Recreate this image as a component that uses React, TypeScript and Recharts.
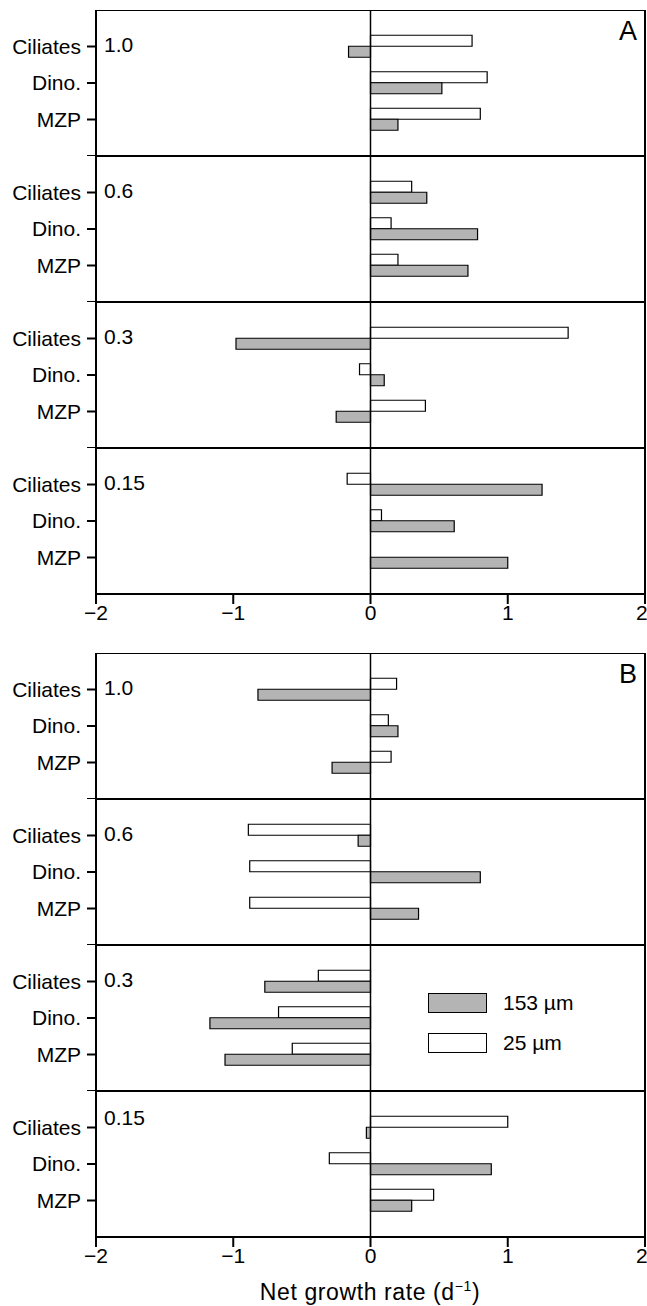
import React from 'react'
import { BarChart, Bar, XAxis, YAxis, ReferenceLine, Legend } from 'recharts'

// categories, sub-panel labels and axis ticks
const categories = ['Ciliates', 'Dino.', 'MZP']
const levels = ['1.0', '0.6', '0.3', '0.15']
const xTicks = [-2, -1, 0, 1, 2]
const panelLetters = ['A', 'B']

// Panel A: net growth rate (d-1), order Ciliates, Dino., MZP
const a153_10 = [-0.16, 0.52, 0.2]
const a25_10 = [0.74, 0.85, 0.8]
const a153_06 = [0.41, 0.78, 0.71]
const a25_06 = [0.3, 0.15, 0.2]
const a153_03 = [-0.98, 0.1, -0.25]
const a25_03 = [1.44, -0.08, 0.4]
const a153_015 = [1.25, 0.61, 1.0]
const a25_015 = [-0.17, 0.08, 0]

// Panel B
const b153_10 = [-0.82, 0.2, -0.28]
const b25_10 = [0.19, 0.13, 0.15]
const b153_06 = [-0.09, 0.8, 0.35]
const b25_06 = [-0.89, -0.88, -0.88]
const b153_03 = [-0.77, -1.17, -1.06]
const b25_03 = [-0.38, -0.67, -0.57]
const b153_015 = [-0.03, 0.88, 0.3]
const b25_015 = [1.0, -0.3, 0.46]

const panelA153 = [a153_10, a153_06, a153_03, a153_015]
const panelA25 = [a25_10, a25_06, a25_03, a25_015]
const panelB153 = [b153_10, b153_06, b153_03, b153_015]
const panelB25 = [b25_10, b25_06, b25_03, b25_015]

const FONT = '"Liberation Sans", Arial, Helvetica, sans-serif'
const W = 647
const SUB_H = 146
const PANEL_TOPS = [10, 653]
const GRAY = '#b4b4b4'

const fmtX = (v: number) => (v < 0 ? '\u2212' + Math.abs(v) : String(v))

function LegendBox({ payload }: any) {
  const order = ['153 µm', '25 µm']
  const items = [...(payload || [])].sort((a: any, b: any) => order.indexOf(a.value) - order.indexOf(b.value))
  return (
    <div style={{ fontFamily: FONT, fontSize: 21 }}>
      {items.map((p: any) => (
        <div key={p.value} style={{ display: 'flex', alignItems: 'center', height: 20, marginBottom: 20 }}>
          <div
            style={{
              width: 57,
              height: 18,
              background: p.value === '153 µm' ? GRAY : '#fff',
              border: '1.5px solid #000',
              marginRight: 16,
            }}
          />
          <span>{p.value}</span>
        </div>
      ))}
    </div>
  )
}

function SubPanel({
  v153,
  v25,
  last,
  legend,
}: {
  v153: number[]
  v25: number[]
  last: boolean
  legend: boolean
}) {
  const data = categories.map((name, i) => ({ name, pos: i + 1, s25: v25[i], s153: v153[i] }))
  return (
    <BarChart
      width={W}
      height={SUB_H + (last ? 40 : 0)}
      data={data}
      layout="vertical"
      margin={{ top: 0, right: 2, bottom: 0, left: 0 }}
      barSize={11}
      barGap={0}
    >
      <XAxis
        type="number"
        domain={[-2, 2]}
        ticks={xTicks}
        hide={!last}
        height={last ? 40 : 0}
        tickFormatter={fmtX}
        tickSize={10}
        tickMargin={1}
        axisLine={{ stroke: '#000', strokeWidth: 2 }}
        tickLine={{ stroke: '#000', strokeWidth: 2 }}
        tick={{ fill: '#000', fontSize: 21, fontFamily: FONT }}
      />
      <YAxis
        type="number"
        dataKey="pos"
        domain={[0, 4]}
        ticks={last ? [1, 2, 3] : [1, 2, 3, 4]}
        interval={0}
        width={96}
        tickSize={9}
        tickMargin={6}
        tickFormatter={(v: number) => categories[v - 1] ?? ''}
        axisLine={{ stroke: '#000', strokeWidth: 2 }}
        tickLine={{ stroke: '#000', strokeWidth: 2 }}
        tick={{ fill: '#000', fontSize: 21, fontFamily: FONT }}
      />
      <ReferenceLine y={0} stroke="#000" strokeWidth={2} />
      <ReferenceLine y={4} stroke="#000" strokeWidth={2} />
      <ReferenceLine x={2} stroke="#000" strokeWidth={2} />
      <ReferenceLine x={0} stroke="#000" strokeWidth={1.5} />
      <Bar dataKey="s25" name="25 µm" fill="#ffffff" stroke="#000" strokeWidth={1.2} isAnimationActive={false} />
      <Bar dataKey="s153" name="153 µm" fill={GRAY} stroke="#000" strokeWidth={1.2} isAnimationActive={false} />
      {legend && (
        <Legend
          layout="vertical"
          align="center"
          verticalAlign="middle"
          content={<LegendBox />}
          wrapperStyle={{ position: 'absolute', left: 428, top: 48, width: 180 }}
        />
      )}
    </BarChart>
  )
}

export default function App() {
  const panels = [
    { v153: panelA153, v25: panelA25 },
    { v153: panelB153, v25: panelB25 },
  ]
  return (
    <div
      style={{
        position: 'absolute',
        left: 0,
        top: 0,
        width: W,
        height: 1306,
        background: '#fff',
        fontFamily: FONT,
      }}
    >
      {panels.map((p, pi) =>
        levels.map((lvl, li) => {
          const top = PANEL_TOPS[pi] + li * SUB_H
          const last = li === levels.length - 1
          return (
            <div key={`${pi}-${li}`} style={{ position: 'absolute', left: 0, top }}>
              <SubPanel v153={p.v153[li]} v25={p.v25[li]} last={last} legend={pi === 1 && li === 2} />
              <div
                style={{
                  position: 'absolute',
                  left: 104,
                  top: pi === 1 && last ? 16 : 24,
                  fontSize: 21,
                  lineHeight: '22px',
                }}
              >
                {lvl}
              </div>
            </div>
          )
        })
      )}
      {panelLetters.map((l, i) => (
        <div
          key={l}
          style={{ position: 'absolute', left: 619, top: PANEL_TOPS[i] + 6, fontSize: 27, lineHeight: '30px' }}
        >
          {l}
        </div>
      ))}
      <div
        style={{
          position: 'absolute',
          left: 0,
          width: 740,
          top: 1273,
          textAlign: 'center',
          fontSize: 23,
          letterSpacing: 0.6,
          lineHeight: '26px',
        }}
      >
        Net growth rate (d<sup style={{ fontSize: 14 }}>{'\u2212'}1</sup>)
      </div>
    </div>
  )
}
